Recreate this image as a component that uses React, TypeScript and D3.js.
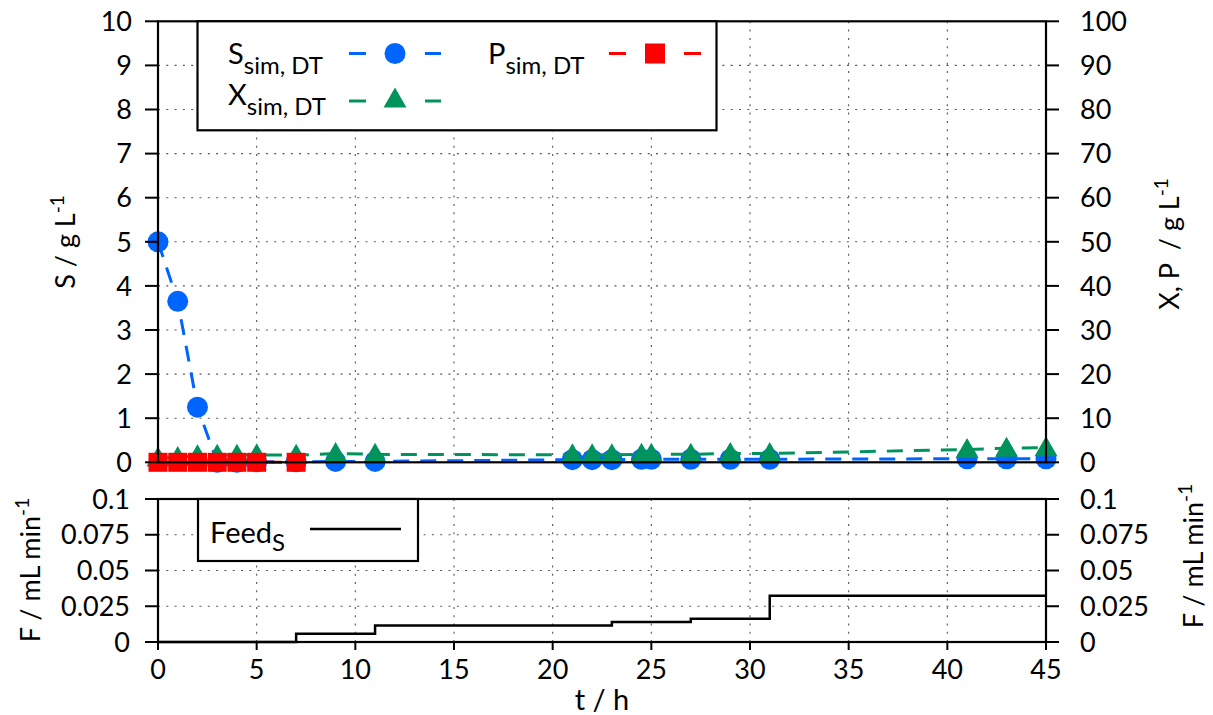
import React from "react";
import * as d3 from "d3";

// ---- data ----
const times = [0, 1, 2, 3, 4, 5, 7, 9, 11, 21, 22, 23, 24.5, 25, 27, 29, 31, 41, 43, 45];
const sValues = [5.0, 3.65, 1.25, 0.0, 0.0, 0.01, 0.01, 0.02, 0.02, 0.06, 0.06, 0.06, 0.07, 0.07, 0.07, 0.07, 0.07, 0.08, 0.08, 0.08];
const xValues = [1.0, 1.1, 1.5, 1.6, 1.6, 1.7, 1.6, 2.0, 1.8, 1.7, 1.7, 1.7, 1.8, 1.8, 1.8, 2.0, 2.0, 2.9, 3.2, 3.3];
const pTimes = [0, 1, 2, 3, 4, 5, 7];
const pValues = [0, 0, 0, 0, 0, 0, 0];
const feedTimes = [0, 7, 11, 23, 27, 31, 45];
const feedValues = [0, 0.0058, 0.0116, 0.0139, 0.0162, 0.0324, 0.0324];

const tTicks = [0, 5, 10, 15, 20, 25, 30, 35, 40, 45];
const sTicks = [0, 1, 2, 3, 4, 5, 6, 7, 8, 9, 10];
const xpTicks = [0, 10, 20, 30, 40, 50, 60, 70, 80, 90, 100];
const fTicks = [0, 0.025, 0.05, 0.075, 0.1];
const fTickLabels = ["0", "0.025", "0.05", "0.075", "0.1"];

const BLUE = "#0064ff";
const GREEN = "#00935c";
const RED = "#ff0000";
const FONT = "Lato, 'Open Sans', sans-serif";
const FS = 27;

export default function App() {
  const L = 158, R = 1046;
  const T1 = 21.3, B1 = 462.3;
  const T2 = 499, B2 = 642;
  const x = d3.scaleLinear().domain([0, 45]).range([L, R]);
  const yS = d3.scaleLinear().domain([0, 10]).range([B1, T1]);
  const yX = d3.scaleLinear().domain([0, 100]).range([B1, T1]);
  const yF = d3.scaleLinear().domain([0, 0.1]).range([B2, T2]);

  const sPts: [number, number][] = times.map((t, i) => [t, sValues[i]]);
  const xPts: [number, number][] = times.map((t, i) => [t, xValues[i]]);
  const pPts: [number, number][] = pTimes.map((t, i) => [t, pValues[i]]);
  const fPts: [number, number][] = feedTimes.map((t, i) => [t, feedValues[i]]);

  const lineS = d3.line<[number, number]>().x(d => x(d[0])).y(d => yS(d[1]));
  const lineX = d3.line<[number, number]>().x(d => x(d[0])).y(d => yX(d[1]));
  const lineF = d3.line<[number, number]>().x(d => x(d[0])).y(d => yF(d[1])).curve(d3.curveStepAfter);

  const grid = { stroke: "#555", strokeWidth: 1.1, strokeDasharray: "2 6.3" };
  const dash = "16 11";
  const tri = (cx: number, cy: number) => `M${cx},${cy - 11.5}L${cx + 11.5},${cy + 8.5}L${cx - 11.5},${cy + 8.5}Z`;

  const txt = { fontFamily: FONT, fontSize: FS, fill: "#000" } as const;
  const lg = { fontFamily: FONT, fontSize: 29, fill: "#000" } as const;

  return (
    <svg width={1213} height={715} style={{ position: "absolute", left: 0, top: 0, background: "#fff" }}>
      <rect x={0} y={0} width={1213} height={715} fill="#fff" />
      {/* grid top */}
      {tTicks.filter(t => t > 0 && t < 45).map(t => (
        <line key={"gv1" + t} x1={x(t)} x2={x(t)} y1={T1} y2={B1} {...grid} />
      ))}
      {sTicks.filter(s => s > 0 && s < 10).map(s => (
        <line key={"gh1" + s} x1={L} x2={R} y1={yS(s)} y2={yS(s)} {...grid} />
      ))}
      {/* grid bottom */}
      {tTicks.filter(t => t > 0 && t < 45).map(t => (
        <line key={"gv2" + t} x1={x(t)} x2={x(t)} y1={T2} y2={B2} {...grid} />
      ))}
      {fTicks.filter(f => f > 0 && f < 0.1).map(f => (
        <line key={"gh2" + f} x1={L} x2={R} y1={yF(f)} y2={yF(f)} {...grid} />
      ))}

      {/* S series */}
      <path d={lineS(sPts) || ""} fill="none" stroke={BLUE} strokeWidth={3} strokeDasharray={dash} />
      {sPts.map((d, i) => (
        <circle key={"s" + i} cx={x(d[0])} cy={yS(d[1])} r={10.5} fill={BLUE} />
      ))}
      {/* X series */}
      <path d={lineX(xPts) || ""} fill="none" stroke={GREEN} strokeWidth={3} strokeDasharray={dash} />
      {xPts.map((d, i) => (
        <path key={"x" + i} d={tri(x(d[0]), yX(d[1]))} fill={GREEN} />
      ))}
      {/* P series */}
      <path d={lineX(pPts) || ""} fill="none" stroke={RED} strokeWidth={3} strokeDasharray={dash} />
      {pPts.map((d, i) => (
        <rect key={"p" + i} x={x(d[0]) - 9.5} y={yX(d[1]) - 9.5} width={19} height={19} fill={RED} />
      ))}

      {/* Feed */}
      <path d={lineF(fPts) || ""} fill="none" stroke="#000" strokeWidth={2.5} />

      {/* frames */}
      <rect x={L} y={T1} width={R - L} height={B1 - T1} fill="none" stroke="#000" strokeWidth={2.2} />
      <rect x={L} y={T2} width={R - L} height={B2 - T2} fill="none" stroke="#000" strokeWidth={2.2} />

      {/* left ticks top */}
      {sTicks.map(s => (
        <g key={"ls" + s}>
          <line x1={L - 13} x2={L} y1={yS(s)} y2={yS(s)} stroke="#000" strokeWidth={2} />
          <text x={132} y={yS(s)} dy="0.36em" textAnchor="end" {...txt}>{s}</text>
        </g>
      ))}
      {/* right ticks top */}
      {xpTicks.map(v => (
        <g key={"rx" + v}>
          <line x1={R} x2={R + 13} y1={yX(v)} y2={yX(v)} stroke="#000" strokeWidth={2} />
          <text x={1080} y={yX(v)} dy="0.36em" textAnchor="start" {...txt}>{v}</text>
        </g>
      ))}
      {/* bottom panel ticks */}
      {fTicks.map((f, i) => (
        <g key={"fl" + f}>
          <line x1={L - 13} x2={L} y1={yF(f)} y2={yF(f)} stroke="#000" strokeWidth={2} />
          <text x={130} y={yF(f)} dy="0.36em" textAnchor="end" {...txt}>{fTickLabels[i]}</text>
          <line x1={R} x2={R + 13} y1={yF(f)} y2={yF(f)} stroke="#000" strokeWidth={2} />
          <text x={1080} y={yF(f)} dy="0.36em" textAnchor="start" {...txt}>{fTickLabels[i]}</text>
        </g>
      ))}
      {tTicks.map(t => (
        <g key={"xt" + t}>
          <line x1={x(t)} x2={x(t)} y1={B2} y2={B2 + 8} stroke="#000" strokeWidth={2} />
          <text x={x(t)} y={679} textAnchor="middle" {...txt}>{t}</text>
        </g>
      ))}

      {/* axis labels */}
      <text x={602} y={710} textAnchor="middle" {...lg}>t / h</text>
      <text transform="translate(75,242) rotate(-90)" textAnchor="middle" {...txt}>
        S / g L<tspan dy={-11} fontSize={19}>-1</tspan>
      </text>
      <text transform="translate(1179,244) rotate(-90)" textAnchor="middle" {...txt}>
        X, P<tspan dx={14}>/ g L</tspan><tspan dy={-11} fontSize={19}>-1</tspan>
      </text>
      <text transform="translate(40,570) rotate(-90)" textAnchor="middle" {...txt}>
        F / mL min<tspan dy={-11} fontSize={19}>-1</tspan>
      </text>
      <text transform="translate(1203,556) rotate(-90)" textAnchor="middle" {...txt}>
        F / mL min<tspan dy={-11} fontSize={19}>-1</tspan>
      </text>

      {/* top legend */}
      <rect x={197.5} y={T1} width={519} height={109} fill="#fff" stroke="#000" strokeWidth={2.2} />
      <text x={228} y={64} {...lg}>S<tspan dy={10} fontSize={24}>sim, DT</tspan></text>
      <line x1={349} x2={366} y1={53.5} y2={53.5} stroke={BLUE} strokeWidth={3} />
      <line x1={425} x2={441} y1={53.5} y2={53.5} stroke={BLUE} strokeWidth={3} />
      <circle cx={395} cy={53.5} r={10.5} fill={BLUE} />

      <text x={228} y={105} {...lg}>X<tspan dy={10} fontSize={24}>sim, DT</tspan></text>
      <line x1={349} x2={366} y1={101} y2={101} stroke={GREEN} strokeWidth={3} />
      <line x1={425} x2={441} y1={101} y2={101} stroke={GREEN} strokeWidth={3} />
      <path d={tri(395, 99)} fill={GREEN} />

      <text x={488} y={64} {...lg}>P<tspan dy={10} fontSize={24}>sim, DT</tspan></text>
      <line x1={609} x2={626} y1={53.5} y2={53.5} stroke={RED} strokeWidth={3} />
      <line x1={684} x2={701} y1={53.5} y2={53.5} stroke={RED} strokeWidth={3} />
      <rect x={645} y={43.5} width={20} height={20} fill={RED} />

      {/* bottom legend */}
      <rect x={198} y={T2} width={220} height={62} fill="#fff" stroke="#000" strokeWidth={2.2} />
      <text x={210} y={543} {...lg}>Feed<tspan dy={8} fontSize={24}>S</tspan></text>
      <line x1={310} x2={401} y1={529} y2={529} stroke="#000" strokeWidth={2.5} />
    </svg>
  );
}
